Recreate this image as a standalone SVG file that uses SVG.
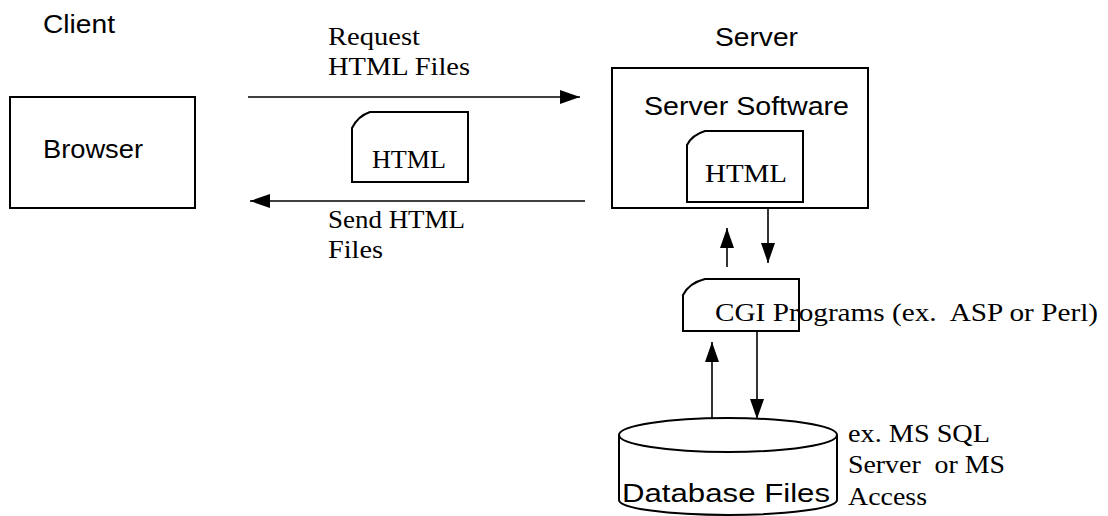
<svg xmlns="http://www.w3.org/2000/svg" width="1108" height="516" viewBox="0 0 1108 516">
<style>
.box{fill:none;stroke:#000;stroke-width:2}
.ln{fill:none;stroke:#000;stroke-width:1.6}
.sans{font-family:"Liberation Sans",Arial,sans-serif;font-size:26px;fill:#000}
.serif{font-family:"Liberation Serif","Times New Roman",serif;font-size:26px;fill:#000;white-space:pre}
</style>
<defs>
<marker id="ah" viewBox="0 0 20 14" refX="20" refY="7" markerWidth="20" markerHeight="14" markerUnits="userSpaceOnUse" orient="auto">
<path d="M0,0 L20,7 L0,14 Z" fill="#000"/>
</marker>
</defs>
<rect width="1108" height="516" fill="#fff"/>
<g id="labels">
<text class="sans" x="43" y="33" textLength="72" lengthAdjust="spacingAndGlyphs">Client</text>
<text class="sans" x="715" y="46" textLength="83" lengthAdjust="spacingAndGlyphs">Server</text>
<text class="serif" x="328" y="45" textLength="92" lengthAdjust="spacingAndGlyphs">Request</text>
<text class="serif" x="328" y="75" textLength="142" lengthAdjust="spacingAndGlyphs">HTML Files</text>
<text class="serif" x="328" y="228" textLength="137" lengthAdjust="spacingAndGlyphs">Send HTML</text>
<text class="serif" x="328" y="258" textLength="55" lengthAdjust="spacingAndGlyphs">Files</text>
<text class="serif" x="848" y="442" textLength="142" lengthAdjust="spacingAndGlyphs">ex. MS SQL</text>
<text class="serif" x="848" y="473" textLength="157" lengthAdjust="spacingAndGlyphs">Server  or MS</text>
<text class="serif" x="848" y="505" textLength="79" lengthAdjust="spacingAndGlyphs">Access</text>
</g>
<g id="browser">
<rect class="box" x="10" y="97" width="185" height="111"/>
<text class="sans" x="43" y="158" textLength="100" lengthAdjust="spacingAndGlyphs">Browser</text>
</g>
<g id="html-transfer">
<path class="box" d="M352,128 Q358,116 370,112 L468,112 L468,182 L352,182 Z"/>
<text class="serif" x="372" y="168" textLength="74" lengthAdjust="spacingAndGlyphs">HTML</text>
</g>
<g id="server">
<rect class="box" x="612" y="68" width="256" height="140"/>
<text class="sans" x="644" y="115" textLength="205" lengthAdjust="spacingAndGlyphs">Server Software</text>
<path class="box" d="M687,145 Q692,135 705,131 L803,131 L803,202 L687,202 Z"/>
<text class="serif" x="705" y="182" textLength="82" lengthAdjust="spacingAndGlyphs">HTML</text>
</g>
<g id="cgi">
<text class="serif" x="715" y="321" textLength="383" lengthAdjust="spacingAndGlyphs">CGI Programs (ex.  ASP or Perl)</text>
<path class="box" d="M683,295 Q689,283 705,279 L799,279 L799,331 L683,331 Z"/>
</g>
<g id="database">
<path class="box" d="M619,435 L619,500 A109,15 0 0 0 837,500 L837,435"/>
<ellipse class="box" cx="728" cy="435" rx="109" ry="17"/>
<text class="sans" x="622" y="502" font-size="30" textLength="208" lengthAdjust="spacingAndGlyphs">Database Files</text>
</g>
<g id="connectors">
<line class="ln" x1="248" y1="97" x2="580" y2="97" marker-end="url(#ah)"/>
<line class="ln" x1="585" y1="201" x2="250" y2="201" marker-end="url(#ah)"/>
<line class="ln" x1="727" y1="267" x2="727" y2="228" marker-end="url(#ah)"/>
<line class="ln" x1="768" y1="209" x2="768" y2="263" marker-end="url(#ah)"/>
<line class="ln" x1="712" y1="419" x2="712" y2="342" marker-end="url(#ah)"/>
<line class="ln" x1="757" y1="331" x2="757" y2="419" marker-end="url(#ah)"/>
</g>
</svg>
